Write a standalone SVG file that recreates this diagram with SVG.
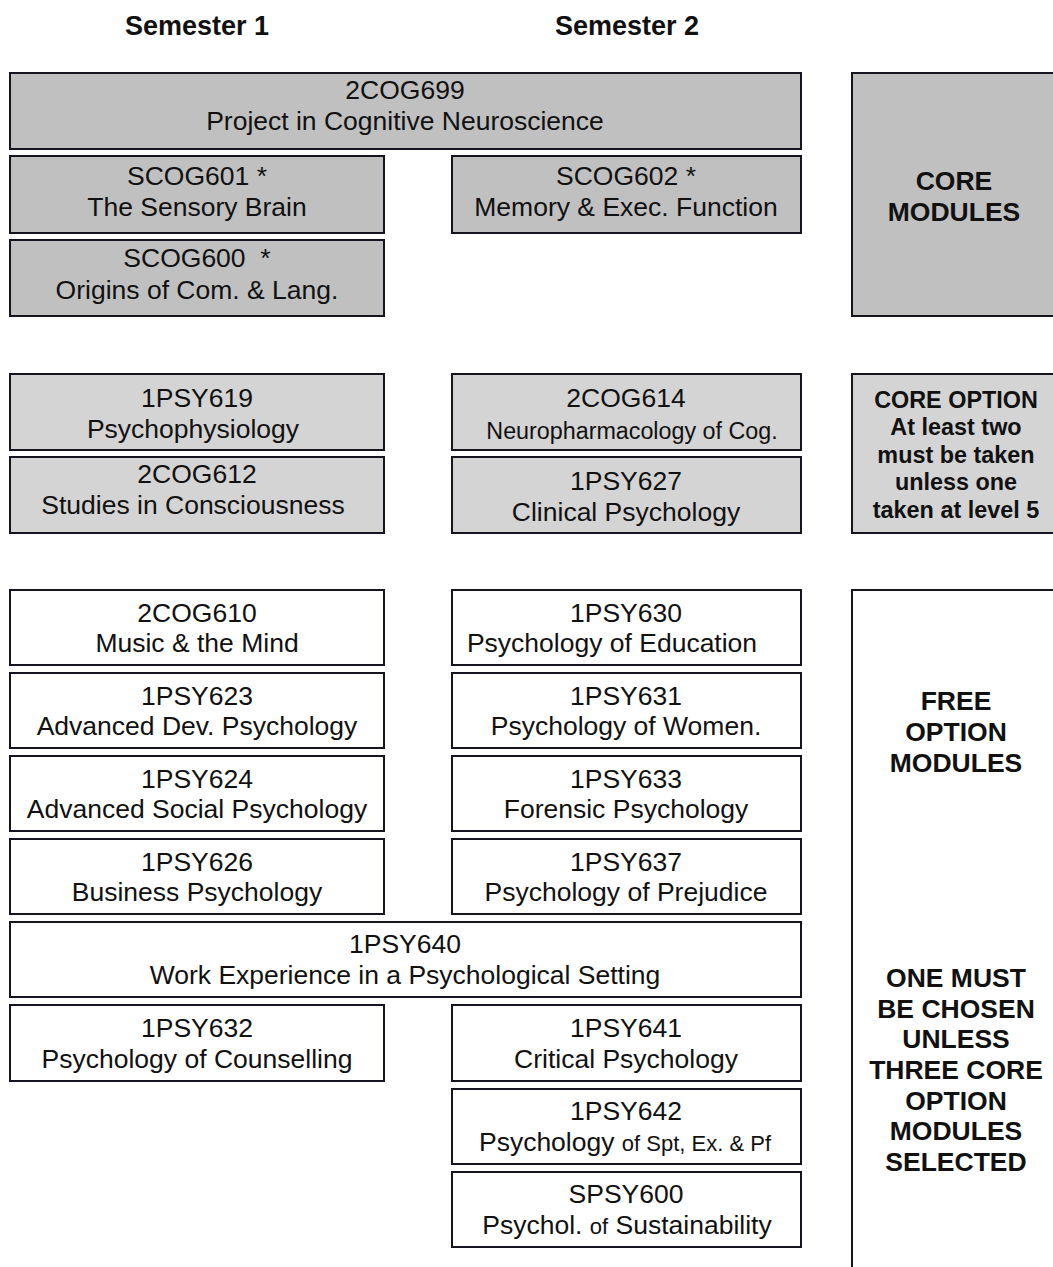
<svg xmlns="http://www.w3.org/2000/svg" width="1053" height="1267" viewBox="0 0 1053 1267">
<style>
  text { font-family: "Liberation Sans", Arial, sans-serif; fill: #111; }
  .t { font-size: 26.5px; text-anchor: middle; }
  .h { font-size: 26.5px; font-weight: bold; text-anchor: middle; }
  .ho { font-size: 23.4px; font-weight: bold; text-anchor: middle; }
  .s { font-size: 22px; }
  .core { fill: #c0c0c0; stroke: #15151f; stroke-width: 2; }
  .copt { fill: #d4d4d4; stroke: #15151f; stroke-width: 2; }
  .free { fill: #ffffff; stroke: #15151f; stroke-width: 2; }
  .line { fill: none; stroke: #15151f; stroke-width: 2; }
</style>
<rect width="1053" height="1267" fill="#ffffff"/>

<g id="titles">
  <text class="h" x="197" y="35" style="font-size:27px">Semester 1</text>
  <text class="h" x="627" y="35" style="font-size:27px">Semester 2</text>
</g>

<g id="connectors"></g>

<!-- Core modules -->
<g id="n-2COG699"><rect class="core" x="10" y="73" width="791" height="76"/>
  <text class="t" x="405" y="99">2COG699</text><text class="t" x="405" y="130">Project in Cognitive Neuroscience</text></g>
<g id="n-SCOG601"><rect class="core" x="10" y="156" width="374" height="77"/>
  <text class="t" x="197" y="185">SCOG601 *</text><text class="t" x="197" y="216">The Sensory Brain</text></g>
<g id="n-SCOG602"><rect class="core" x="452" y="156" width="349" height="77"/>
  <text class="t" x="626" y="185">SCOG602 *</text><text class="t" x="626" y="216">Memory &amp; Exec. Function</text></g>
<g id="n-SCOG600"><rect class="core" x="10" y="240" width="374" height="76"/>
  <text class="t" x="197" y="267" xml:space="preserve">SCOG600  *</text><text class="t" x="197" y="299">Origins of Com. &amp; Lang.</text></g>
<g id="lbl-core"><rect class="core" x="852" y="73" width="210" height="243"/>
  <text class="h" x="954" y="190">CORE</text><text class="h" x="954" y="221">MODULES</text></g>

<!-- Core options -->
<g id="n-1PSY619"><rect class="copt" x="10" y="374" width="374" height="76"/>
  <text class="t" x="197" y="407">1PSY619</text><text class="t" x="193" y="438">Psychophysiology</text></g>
<g id="n-2COG612"><rect class="copt" x="10" y="457" width="374" height="76"/>
  <text class="t" x="197" y="483">2COG612</text><text class="t" x="193" y="514">Studies in Consciousness</text></g>
<g id="n-2COG614"><rect class="copt" x="452" y="374" width="349" height="76"/>
  <text class="t" x="626" y="407">2COG614</text><text class="t s" x="632" y="439" style="font-size:23.3px">Neuropharmacology of Cog.</text></g>
<g id="n-1PSY627"><rect class="copt" x="452" y="457" width="349" height="76"/>
  <text class="t" x="626" y="490">1PSY627</text><text class="t" x="626" y="521">Clinical Psychology</text></g>
<g id="lbl-coreopt"><rect class="copt" x="852" y="374" width="210" height="159"/>
  <text class="ho" x="956" y="408">CORE OPTION</text>
  <text class="ho" x="956" y="435">At least two</text>
  <text class="ho" x="956" y="463">must be taken</text>
  <text class="ho" x="956" y="490">unless one</text>
  <text class="ho" x="956" y="518">taken at level 5</text></g>

<!-- Free options -->
<g id="n-2COG610"><rect class="free" x="10" y="590" width="374" height="75"/>
  <text class="t" x="197" y="622">2COG610</text><text class="t" x="197" y="652">Music &amp; the Mind</text></g>
<g id="n-1PSY630"><rect class="free" x="452" y="590" width="349" height="75"/>
  <text class="t" x="626" y="622">1PSY630</text><text class="t" x="612" y="652">Psychology of Education</text></g>
<g id="n-1PSY623"><rect class="free" x="10" y="673" width="374" height="75"/>
  <text class="t" x="197" y="705">1PSY623</text><text class="t" x="197" y="735">Advanced Dev. Psychology</text></g>
<g id="n-1PSY631"><rect class="free" x="452" y="673" width="349" height="75"/>
  <text class="t" x="626" y="705">1PSY631</text><text class="t" x="626" y="735">Psychology of Women.</text></g>
<g id="n-1PSY624"><rect class="free" x="10" y="756" width="374" height="75"/>
  <text class="t" x="197" y="788">1PSY624</text><text class="t" x="197" y="818">Advanced Social Psychology</text></g>
<g id="n-1PSY633"><rect class="free" x="452" y="756" width="349" height="75"/>
  <text class="t" x="626" y="788">1PSY633</text><text class="t" x="626" y="818">Forensic Psychology</text></g>
<g id="n-1PSY626"><rect class="free" x="10" y="839" width="374" height="75"/>
  <text class="t" x="197" y="871">1PSY626</text><text class="t" x="197" y="901">Business Psychology</text></g>
<g id="n-1PSY637"><rect class="free" x="452" y="839" width="349" height="75"/>
  <text class="t" x="626" y="871">1PSY637</text><text class="t" x="626" y="901">Psychology of Prejudice</text></g>
<g id="n-1PSY640"><rect class="free" x="10" y="922" width="791" height="75"/>
  <text class="t" x="405" y="953">1PSY640</text><text class="t" x="405" y="984">Work Experience in a Psychological Setting</text></g>
<g id="n-1PSY632"><rect class="free" x="10" y="1005" width="374" height="76"/>
  <text class="t" x="197" y="1037">1PSY632</text><text class="t" x="197" y="1068">Psychology of Counselling</text></g>
<g id="n-1PSY641"><rect class="free" x="452" y="1005" width="349" height="76"/>
  <text class="t" x="626" y="1037">1PSY641</text><text class="t" x="626" y="1068">Critical Psychology</text></g>
<g id="n-1PSY642"><rect class="free" x="452" y="1089" width="349" height="75"/>
  <text class="t" x="626" y="1120">1PSY642</text><text class="t" x="625" y="1151">Psychology <tspan class="s">of Spt, Ex. &amp; Pf</tspan></text></g>
<g id="n-SPSY600"><rect class="free" x="452" y="1172" width="349" height="75"/>
  <text class="t" x="626" y="1203">SPSY600</text><text class="t" x="627" y="1234">Psychol. <tspan class="s">of</tspan> Sustainability</text></g>
<g id="lbl-free"><path class="line" d="M1060,590 H852 V1270"/>
  <text class="h" x="956" y="710">FREE</text>
  <text class="h" x="956" y="741">OPTION</text>
  <text class="h" x="956" y="772">MODULES</text>
  <text class="h" x="956" y="987">ONE MUST</text>
  <text class="h" x="956" y="1018">BE CHOSEN</text>
  <text class="h" x="956" y="1048">UNLESS</text>
  <text class="h" x="956" y="1079">THREE CORE</text>
  <text class="h" x="956" y="1110">OPTION</text>
  <text class="h" x="956" y="1140">MODULES</text>
  <text class="h" x="956" y="1171">SELECTED</text></g>
</svg>
